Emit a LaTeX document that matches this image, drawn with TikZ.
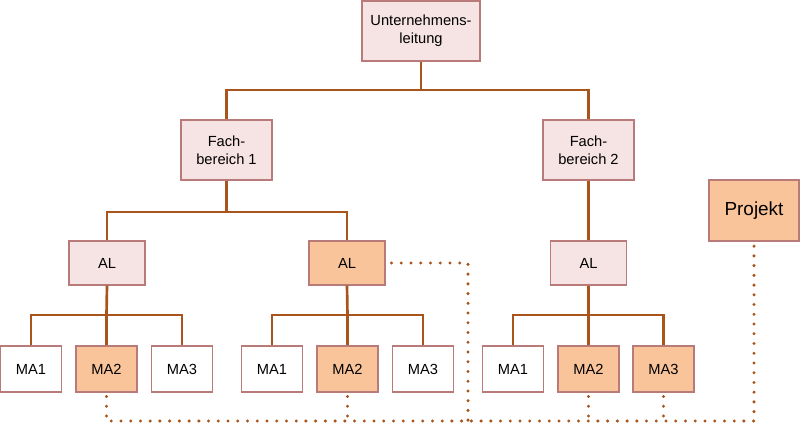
\documentclass[tikz,border=0pt]{standalone}
\usepackage{fontspec}
\setmainfont{Liberation Sans}
\definecolor{pinkfill}{HTML}{F6E3E3}
\definecolor{orangefill}{HTML}{F9C49A}
\definecolor{boxborder}{HTML}{B97A7A}
\definecolor{conn}{HTML}{A8541A}
\begin{document}
\begin{tikzpicture}[x=0.75pt,y=-0.75pt,
  box/.style={draw=boxborder,line width=0.8pt,align=center,inner sep=0pt,font=\fontsize{11}{13.8}\selectfont},
  pinkbox/.style={box,fill=pinkfill},
  orbox/.style={box,fill=orangefill},
  whitebox/.style={box,fill=white},
  ulsize/.style={minimum width=88.5pt,minimum height=45pt},
  fbsize/.style={minimum width=68.25pt,minimum height=45pt},
  alsize/.style={minimum width=57pt,minimum height=33pt},
  masize/.style={minimum width=45.75pt,minimum height=34.5pt},
  conline/.style={draw=conn,line width=2pt},
  dotline/.style={draw=conn,line width=2.5pt,line cap=round,dash pattern=on 0pt off 7.3pt}]
\useasboundingbox (0,0) rectangle (800,424);
% nodes
\node[pinkbox,ulsize] (ul) at (421,31) {Unternehmens-\\leitung};
\node[pinkbox,fbsize] (fb1) at (226.5,150) {Fach-\\bereich 1};
\node[pinkbox,fbsize] (fb2) at (588.5,150) {Fach-\\bereich 2};
\node[pinkbox,alsize] (al1) at (107,263) {AL};
\node[orbox,alsize] (al2) at (347,263) {AL};
\node[pinkbox,alsize] (al3) at (588.5,263) {AL};
\node[whitebox,masize] (ma1a) at (31,369) {MA1};
\node[orbox,masize] (ma2a) at (106.5,369) {MA2};
\node[whitebox,masize] (ma3a) at (182,369) {MA3};
\node[whitebox,masize] (ma1b) at (272,369) {MA1};
\node[orbox,masize] (ma2b) at (347.5,369) {MA2};
\node[whitebox,masize] (ma3b) at (423,369) {MA3};
\node[whitebox,masize] (ma1c) at (513,369) {MA1};
\node[orbox,masize] (ma2c) at (588.5,369) {MA2};
\node[orbox,masize] (ma3c) at (663.5,369) {MA3};
\node[orbox,minimum width=67.5pt,minimum height=45.75pt,font=\fontsize{14.2}{17}\selectfont] (pj) at (754,210.5) {Projekt};
% junctions
\coordinate (j0) at (421,90);
\coordinate (j1) at (226.5,212);
\coordinate (ja) at (106.5,315);
\coordinate (jb) at (347.5,315);
\coordinate (jc) at (588.5,315);
\coordinate (b) at (0,421);
\coordinate (k) at (468,421);
% solid connectors
\draw[conline] (ul.south) -- (j0);
\draw[conline] (fb1.north) |- (j0) -| (fb2.north);
\draw[conline] (fb1.south) -- (j1);
\draw[conline] (al1.north) |- (j1) -| (al2.north);
\draw[conline] (fb2.south) -- (al3.north);
\draw[conline] (al1.south) -- (ja);
\draw[conline] (ma1a.north) |- (ja) -| (ma3a.north);
\draw[conline] (ma2a.north) -- (ja);
\draw[conline] (al2.south) -- (jb);
\draw[conline] (ma1b.north) |- (jb) -| (ma3b.north);
\draw[conline] (ma2b.north) -- (jb);
\draw[conline] (al3.south) -- (jc);
\draw[conline] (ma1c.north) |- (jc) -| (ma3c.north);
\draw[conline] (ma2c.north) -- (jc);
% dotted connectors
\draw[dotline] ([yshift=-3pt]ma2a.south) |- (pj.south |- b) -- ([yshift=-3pt]pj.south);
\draw[dotline] ([xshift=4.5pt]al2.east) -| (k);
\draw[dotline] ([yshift=-3pt]ma2b.south) -- (ma2b.south |- b);
\draw[dotline] ([yshift=-3pt]ma2c.south) -- (ma2c.south |- b);
\draw[dotline] ([yshift=-3pt]ma3c.south) -- (ma3c.south |- b);
\end{tikzpicture}
\end{document}
